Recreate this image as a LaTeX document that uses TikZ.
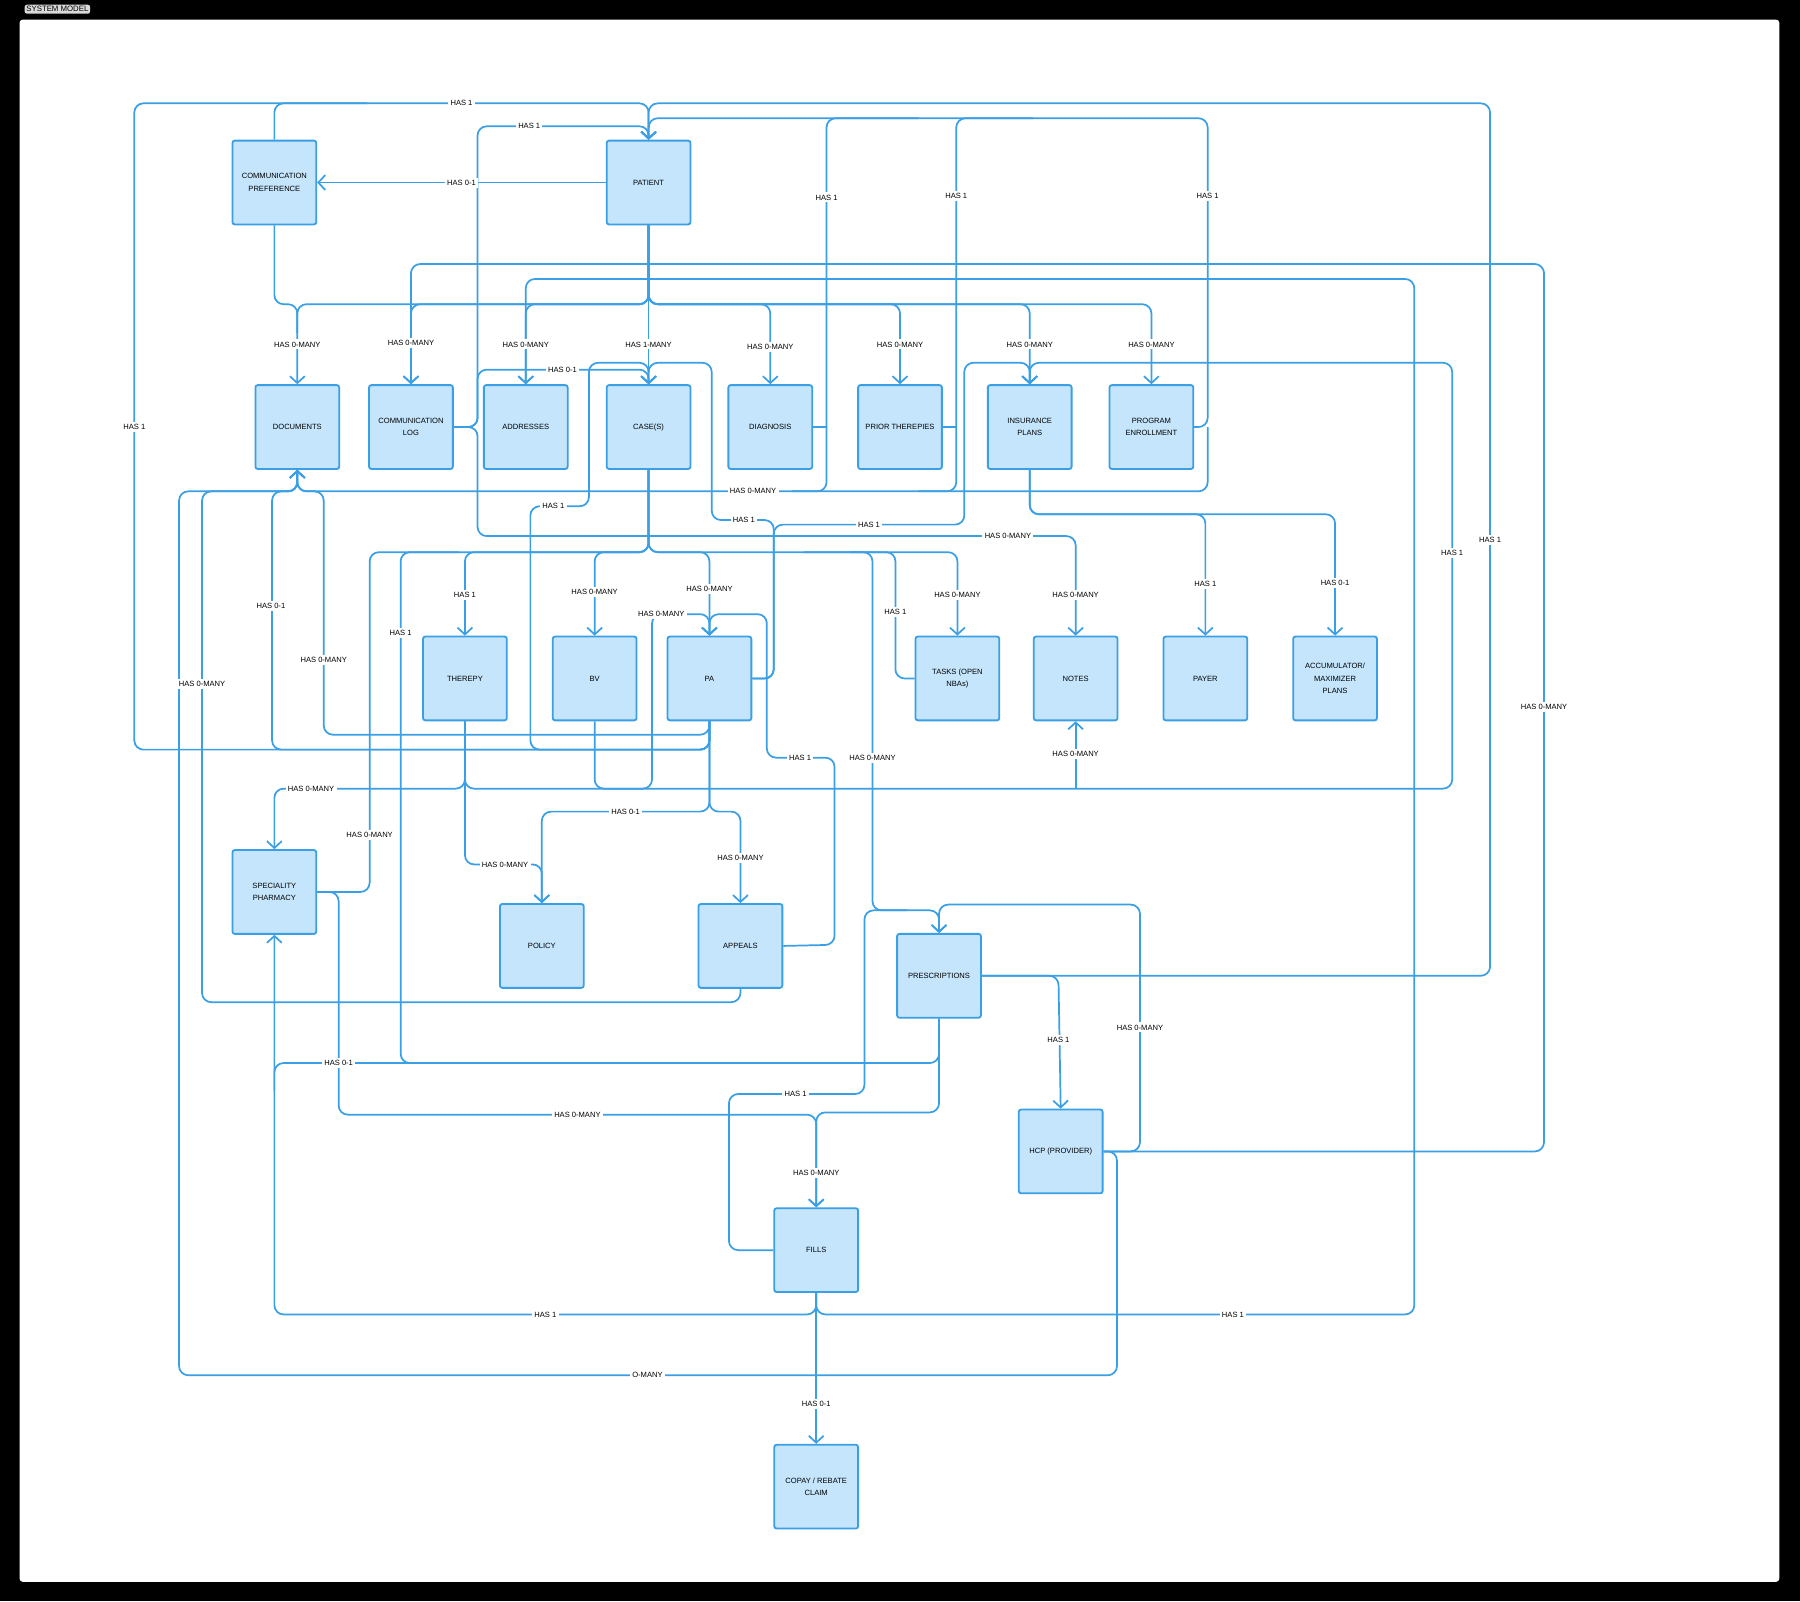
\documentclass[tikz,border=0pt]{standalone}
\usepackage{fontspec}
\setmainfont{Liberation Sans}
\usetikzlibrary{arrows.meta}
\definecolor{lb}{HTML}{3A9FE4}
\definecolor{bf}{HTML}{C4E5FC}
\tikzset{
 conn/.style={draw=lb,line width=1.5pt,rounded corners=8pt,-},
 arr/.style={-{Straight Barb[length=6pt,width=13pt,line width=1.5pt]}},
 box/.style={draw=lb,fill=bf,line width=1.6pt,rounded corners=2pt,minimum width=73pt,minimum height=73pt,align=center,font=\fontsize{6.6}{11}\selectfont,inner sep=1pt},
 lbl/.style={fill=white,inner sep=2pt,font=\fontsize{6.6}{7}\selectfont}
}
\begin{document}
\begin{tikzpicture}[x=1pt,y=-1pt]
\useasboundingbox (0,0) rectangle (1568,1395);
\fill[black] (0,0) rectangle (1568,1395);
\fill[white,rounded corners=3pt] (17,17) rectangle (1550,1378);
\node[fill=white!85!black,rounded corners=2pt,inner sep=1.5pt,font=\fontsize{6.8}{7}\selectfont] (tab) at (50,8) {SYSTEM MODEL};
% boxes
\node[box] (cp) at (239,159) {COMMUNICATION\\PREFERENCE};
\node[box] (pat) at (565,159) {PATIENT};
\node[box] (doc) at (259,372) {DOCUMENTS};
\node[box] (clog) at (358,372) {COMMUNICATION\\LOG};
\node[box] (addr) at (458,372) {ADDRESSES};
\node[box] (cases) at (565,372) {CASE(S)};
\node[box] (diag) at (671,372) {DIAGNOSIS};
\node[box] (prior) at (784,372) {PRIOR THEREPIES};
\node[box] (ins) at (897,372) {INSURANCE\\PLANS};
\node[box] (prog) at (1003,372) {PROGRAM\\ENROLLMENT};
\node[box] (ther) at (405,591) {THEREPY};
\node[box] (bv) at (518,591) {BV};
\node[box] (pa) at (618,591) {PA};
\node[box] (tasks) at (834,591) {TASKS (OPEN\\NBAs)};
\node[box] (notes) at (937,591) {NOTES};
\node[box] (payer) at (1050,591) {PAYER};
\node[box] (acc) at (1163,591) {ACCUMULATOR/\\MAXIMIZER\\PLANS};
\node[box] (sp) at (239,777) {SPECIALITY\\PHARMACY};
\node[box] (pol) at (472,824) {POLICY};
\node[box] (app) at (645,824) {APPEALS};
\node[box] (rx) at (818,850) {PRESCRIPTIONS};
\node[box] (hcp) at (924,1003) {HCP (PROVIDER)};
\node[box] (fills) at (711,1089) {FILLS};
\node[box] (copay) at (711,1295) {COPAY / REBATE\\CLAIM};
% connectors
\begin{scope}[on background layer/.style={}]
\draw[conn,arr] (pa.south) -- (618,653) -- (117,653) -- (117,90) -- (565,90) -- (pat.north);
\draw[conn] (cp.north) -- (239,90) -- (320,90);
\draw[conn,arr] (rx.east) -- (1298,850) -- (1298,90) -- (565,90) -- (pat.north);
\draw[conn,arr] (prog.east) -- (1052,372) -- (1052,103) -- (565,103) -- (pat.north);
\draw[conn] (diag.east) -- (720,372);
\draw[conn] (800,103) -- (720,103) -- (720,428) -- (690,428);
\draw[conn] (prior.east) -- (833,372);
\draw[conn] (900,103) -- (833,103) -- (833,428) -- (800,428);
\draw[conn,arr] (pat.west) -- (cp.east);
\draw[conn,arr] (pat.south) -- (565,265) -- (259,265) -- (doc.north);
\draw[conn] (cp.south) -- (239,265) -- (259,265) -- (259,290);
\draw[conn,arr] (pat.south) -- (565,265) -- (358,265) -- (clog.north);
\draw[conn,arr] (pat.south) -- (565,265) -- (458,265) -- (addr.north);
\draw[conn,arr] (pat.south) -- (cases.north);
\draw[conn,arr] (pat.south) -- (565,265) -- (671,265) -- (diag.north);
\draw[conn,arr] (pat.south) -- (565,265) -- (784,265) -- (prior.north);
\draw[conn,arr] (pat.south) -- (565,265) -- (897,265) -- (ins.north);
\draw[conn,arr] (pat.south) -- (565,265) -- (1003,265) -- (prog.north);
\draw[conn,arr] (hcp.east) -- (1345,1003) -- (1345,230) -- (358,230) -- (clog.north);
\draw[conn,arr] (fills.south) -- (711,1145) -- (1232,1145) -- (1232,243) -- (458,243) -- (addr.north);
\draw[conn,arr] (fills.south) -- (711,1145) -- (239,1145) -- (sp.south);
\draw[conn,arr] (fills.south) -- (copay.north);
\draw[conn,arr] (clog.east) -- (416,372) -- (416,110) -- (565,110) -- (pat.north);
\draw[conn,arr] (clog.east) -- (416,372) -- (416,467) -- (937,467) -- (notes.north);
\draw[conn,arr] (clog.east) -- (416,372) -- (416,322) -- (565,322) -- (cases.north);
\draw[conn,arr] (pa.south) -- (618,653) -- (462,653) -- (462,441) -- (513,441) -- (513,316) -- (565,316) -- (cases.north);
\draw[conn,arr] (app.east) -- (727,823) -- (727,660) -- (668,660) -- (668,535) -- (618,535) -- (pa.north);
\draw[conn,arr] (pa.east) -- (674,591) -- (674,453) -- (620,453) -- (620,316) -- (565,316) -- (cases.north);
\draw[conn,arr] (pa.east) -- (674,591) -- (674,457) -- (840,457) -- (840,316) -- (897,316) -- (ins.north);
\draw[conn,arr] (ther.south) -- (405,687) -- (1265,687) -- (1265,316) -- (897,316) -- (ins.north);
\draw[conn,arr] (937,687) -- (notes.south);
\draw[conn,arr] (ther.south) -- (405,687) -- (239,687) -- (sp.north);
\draw[conn,arr] (ins.south) -- (897,448) -- (1050,448) -- (payer.north);
\draw[conn,arr] (ins.south) -- (897,448) -- (1163,448) -- (acc.north);
\draw[conn,arr] (cases.south) -- (565,481) -- (405,481) -- (ther.north);
\draw[conn,arr] (cases.south) -- (565,481) -- (518,481) -- (bv.north);
\draw[conn,arr] (cases.south) -- (565,481) -- (618,481) -- (pa.north);
\draw[conn,arr] (cases.south) -- (565,481) -- (834,481) -- (tasks.north);
\draw[conn] (cases.south) -- (565,481) -- (322,481) -- (322,777) -- (sp.east);
\draw[conn] (rx.south) -- (818,926) -- (349,926) -- (349,481) -- (400,481);
\draw[conn] (tasks.west) -- (780,591) -- (780,481) -- (740,481);
\draw[conn,arr] (bv.south) -- (518,687) -- (568,687) -- (568,535) -- (618,535) -- (pa.north);
\draw[conn,arr] (700,481) -- (760,481) -- (760,793) -- (818,793) -- (rx.north);
\draw[conn,arr] (hcp.east) -- (993,1003) -- (993,788) -- (818,788) -- (rx.north);
\draw[conn,arr] (rx.east) -- (922,850) -- (hcp.north);
\draw[conn] (fills.west) -- (635,1089) -- (635,953) -- (753,953) -- (753,793) -- (790,793);
\draw[conn,arr] (rx.south) -- (818,969) -- (711,969) -- (fills.north);
\draw[conn,arr] (sp.east) -- (295,777) -- (295,971) -- (711,971) -- (fills.north);
\draw[conn] (239,950) -- (239,926) -- (360,926);
\draw[conn,arr] (ther.south) -- (405,753) -- (472,753) -- (pol.north);
\draw[conn,arr] (pa.south) -- (618,707) -- (472,707) -- (pol.north);
\draw[conn,arr] (pa.south) -- (618,707) -- (645,707) -- (app.north);
\draw[conn,arr] (hcp.east) -- (973,1003) -- (973,1198) -- (156,1198) -- (156,428) -- (259,428) -- (doc.south);
\draw[conn] (doc.south) -- (259,428) -- (1052,428) -- (1052,372);
\draw[conn,arr] (app.south) -- (645,873) -- (176,873) -- (176,428) -- (259,428) -- (doc.south);
\draw[conn,arr] (pa.south) -- (618,653) -- (237,653) -- (237,428) -- (259,428) -- (doc.south);
\draw[conn,arr] (pa.south) -- (618,640) -- (282,640) -- (282,428) -- (259,428) -- (doc.south);
\end{scope}
% labels
\foreach \p/\t [count=\i] in {
 {(402,90)}/HAS 1, {(461,110)}/HAS 1, {(402,159)}/HAS 0-1, {(720,172)}/HAS 1, {(833,171)}/HAS 1, {(1052,171)}/HAS 1,
 {(259,300)}/HAS 0-MANY, {(358,299)}/HAS 0-MANY, {(458,300)}/HAS 0-MANY, {(565,300)}/HAS 1-MANY, {(671,302)}/HAS 0-MANY,
 {(784,300)}/HAS 0-MANY, {(897,300)}/HAS 0-MANY, {(1003,300)}/HAS 0-MANY, {(490,322)}/HAS 0-1, {(117,372)}/HAS 1,
 {(656,428)}/HAS 0-MANY, {(482,441)}/HAS 1, {(648,453)}/HAS 1, {(757,457)}/HAS 1, {(878,467)}/HAS 0-MANY,
 {(1298,470)}/HAS 1, {(1265,482)}/HAS 1, {(1050,509)}/HAS 1, {(1163,508)}/HAS 0-1, {(405,518)}/HAS 1,
 {(518,516)}/HAS 0-MANY, {(618,513)}/HAS 0-MANY, {(834,518)}/HAS 0-MANY, {(937,518)}/HAS 0-MANY, {(236,528)}/HAS 0-1,
 {(780,533)}/HAS 1, {(576,535)}/HAS 0-MANY, {(349,551)}/HAS 1, {(282,575)}/HAS 0-MANY, {(176,596)}/HAS 0-MANY,
 {(1345,616)}/HAS 0-MANY, {(937,657)}/HAS 0-MANY, {(697,660)}/HAS 1, {(760,660)}/HAS 0-MANY, {(271,687)}/HAS 0-MANY,
 {(545,707)}/HAS 0-1, {(322,727)}/HAS 0-MANY, {(645,747)}/HAS 0-MANY, {(440,753)}/HAS 0-MANY, {(993,895)}/HAS 0-MANY,
 {(922,906)}/HAS 1, {(295,926)}/HAS 0-1, {(693,953)}/HAS 1, {(503,971)}/HAS 0-MANY, {(711,1022)}/HAS 0-MANY,
 {(475,1145)}/HAS 1, {(1074,1145)}/HAS 1, {(564,1198)}/O-MANY, {(711,1223)}/HAS 0-1}
 {\node[lbl] (lab\i) at \p {\t};}
\end{tikzpicture}
\end{document}
